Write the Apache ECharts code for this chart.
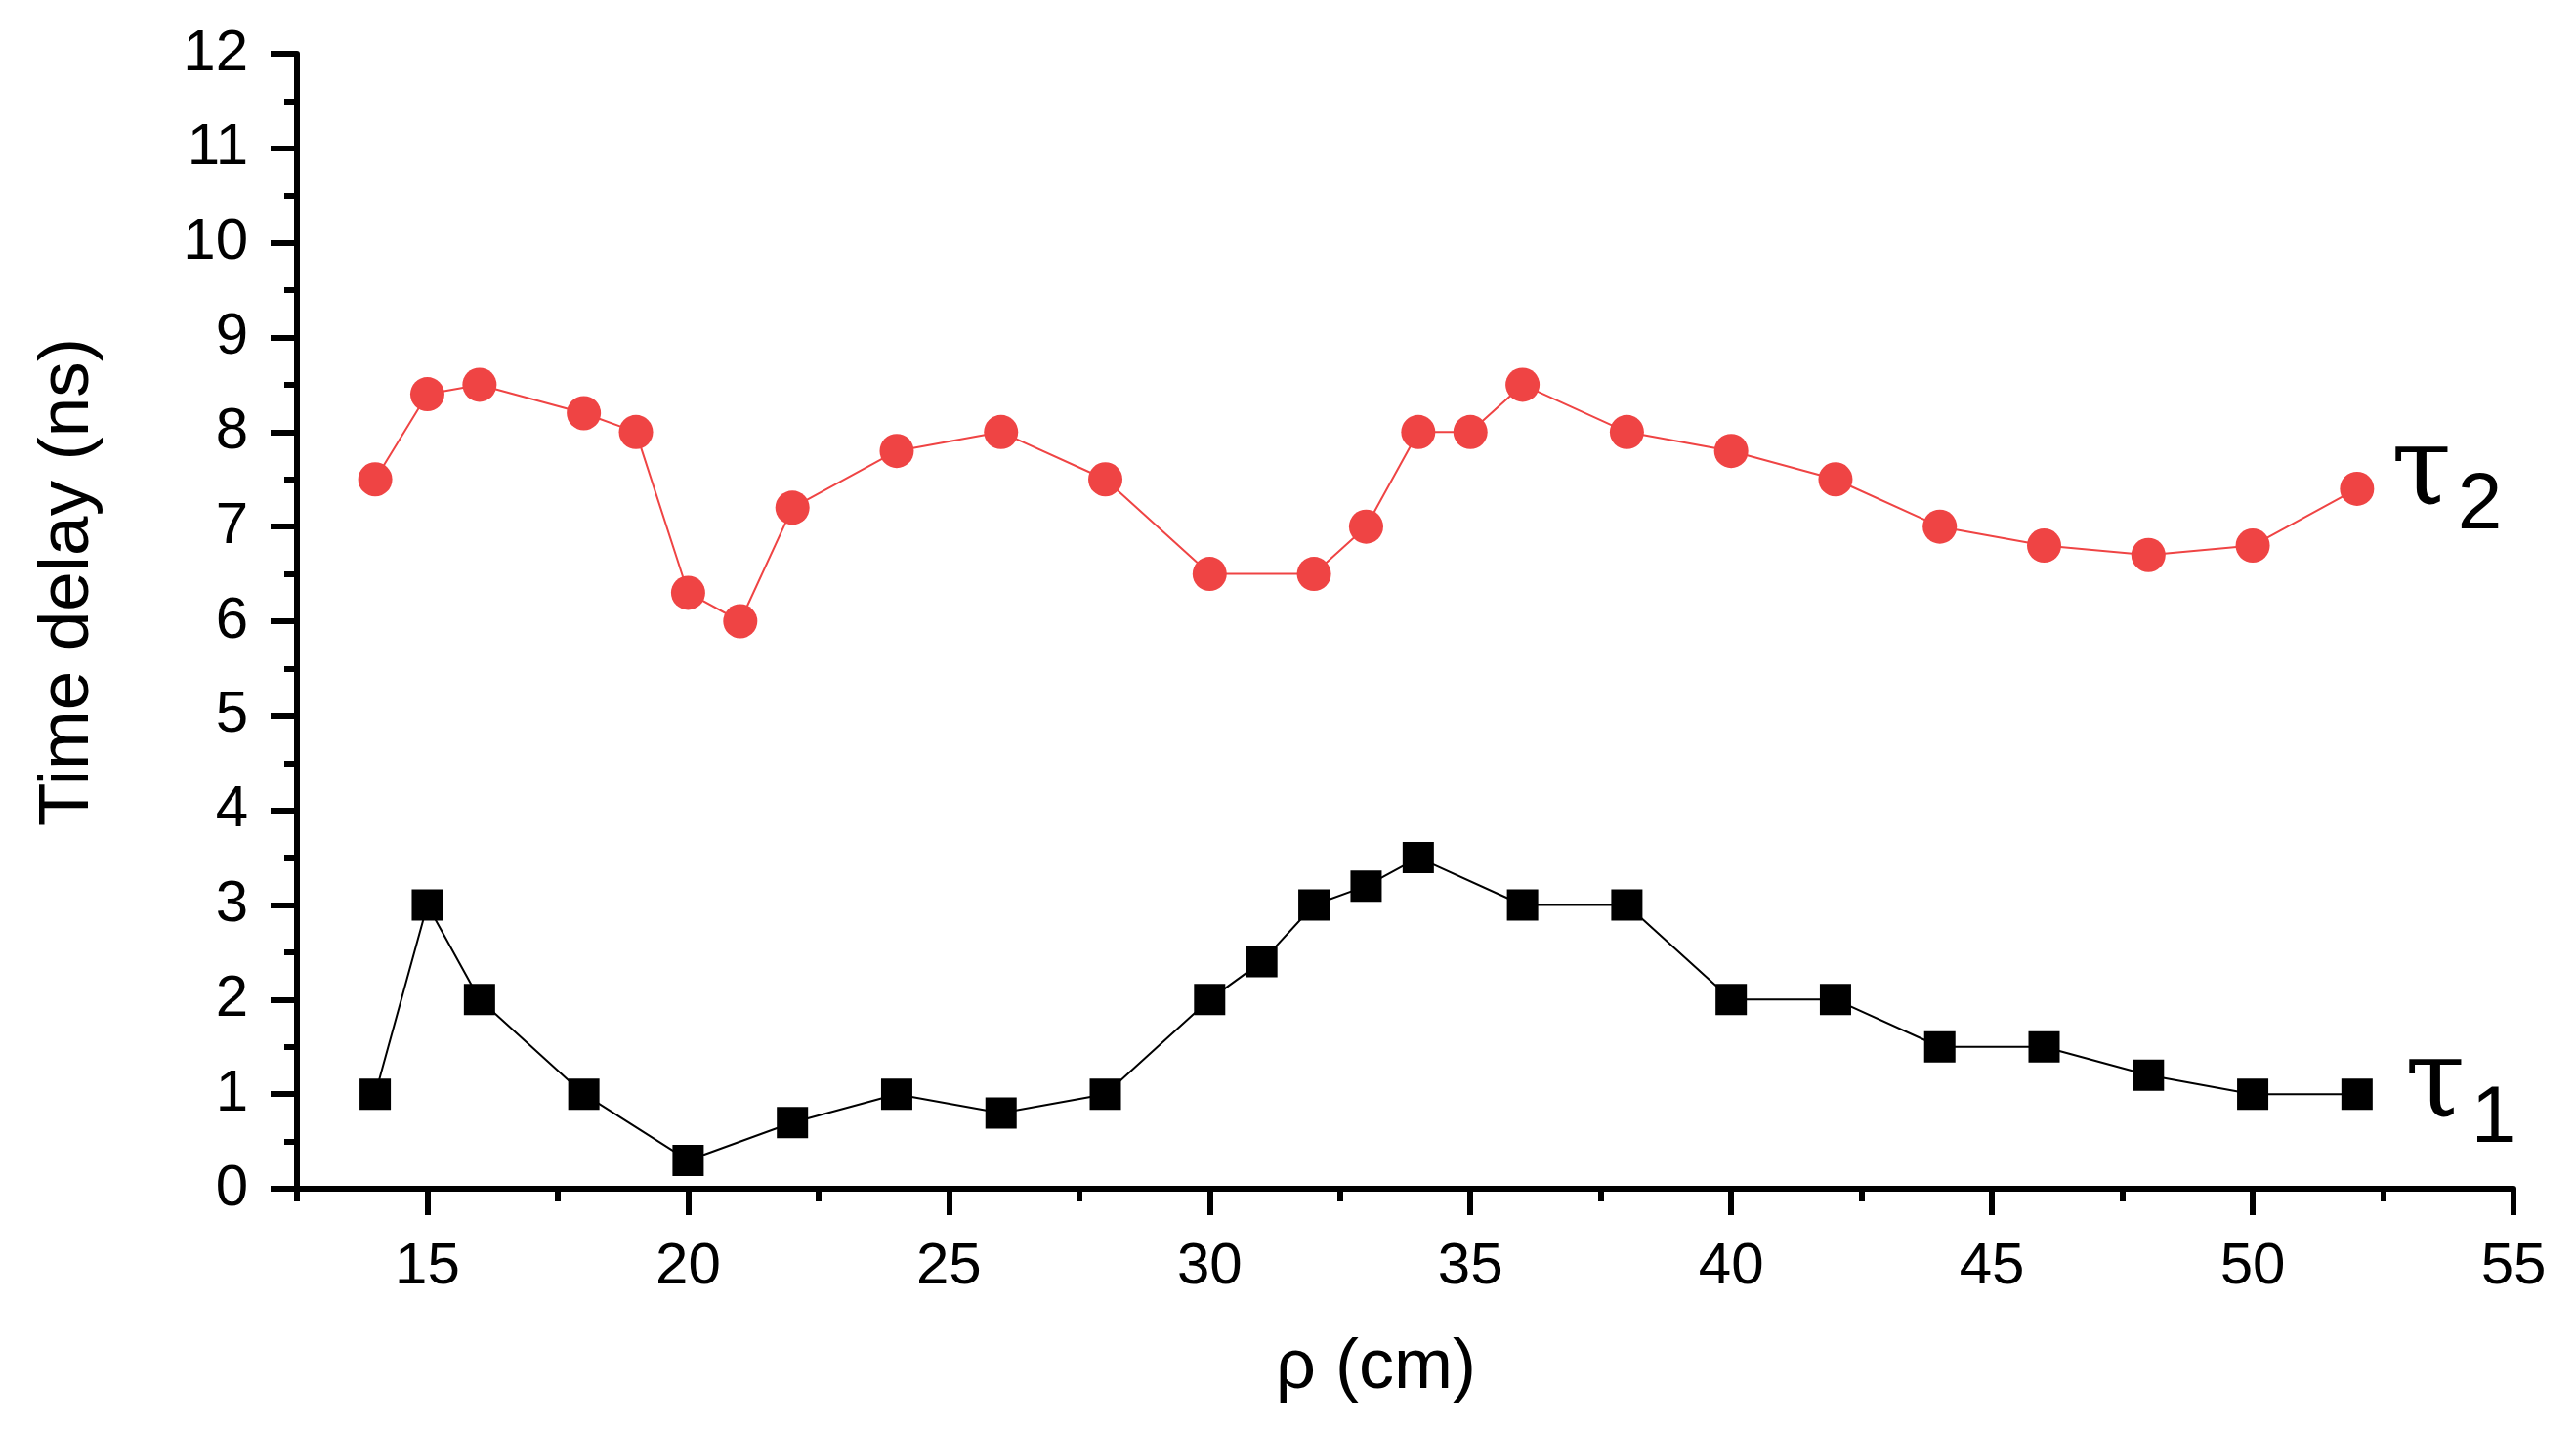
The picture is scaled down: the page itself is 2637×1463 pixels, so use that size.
<!DOCTYPE html>
<html>
<head>
<meta charset="utf-8">
<script src="https://cdn.jsdelivr.net/npm/echarts@6/dist/echarts.min.js"></script>
<style>
  html, body { margin: 0; padding: 0; background: #fff; }
  #chart { width: 2637px; height: 1463px; }
</style>
</head>
<body>
<div id="chart"></div>
<script>
// rho (cm) and time delays (ns)
var rhoTau1 = [14, 15, 16, 18, 20, 22, 24, 26, 28, 30, 31, 32, 33, 34, 36, 38, 40, 42, 44, 46, 48, 50, 52];
var tau1 = [1.0, 3.0, 2.0, 1.0, 0.3, 0.7, 1.0, 0.8, 1.0, 2.0, 2.4, 3.0, 3.2, 3.5, 3.0, 3.0, 2.0, 2.0, 1.5, 1.5, 1.2, 1.0, 1.0];
var rhoTau2 = [14, 15, 16, 18, 19, 20, 21, 22, 24, 26, 28, 30, 32, 33, 34, 35, 36, 38, 40, 42, 44, 46, 48, 50, 52];
var tau2 = [7.5, 8.4, 8.5, 8.2, 8.0, 6.3, 6.0, 7.2, 7.8, 8.0, 7.5, 6.5, 6.5, 7.0, 8.0, 8.0, 8.5, 8.0, 7.8, 7.5, 7.0, 6.8, 6.7, 6.8, 7.4];
var xMajorTicks = [15, 20, 25, 30, 35, 40, 45, 50, 55];
var xMinorTicks = [12.5, 17.5, 22.5, 27.5, 32.5, 37.5, 42.5, 47.5, 52.5];

function pairs(xs, ys) {
    return xs.map(function (x, i) { return [x, ys[i]]; });
}

var chart = echarts.init(document.getElementById('chart'));
var font = 'Liberation Sans, Arial, sans-serif';
var axisLine = { show: true, lineStyle: { color: '#000', width: 6 } };
var tauRich = {
    t: { fontFamily: 'DejaVu Serif', fontSize: 112, color: '#000' },
    s: { fontFamily: font, fontSize: 82, color: '#000', padding: [64, 0, 0, 6] }
};

var option = {
    animation: false,
    backgroundColor: '#fff',
    grid: { left: 304, right: 64, top: 55, bottom: 246 },
    xAxis: [{
        type: 'value',
        min: 12.5,
        max: 55,
        name: 'ρ (cm)',
        nameLocation: 'middle',
        nameGap: 148,
        nameTextStyle: { fontFamily: font, fontSize: 72, color: '#000', padding: [0, 60, 0, 0] },
        axisLine: axisLine,
        axisTick: { show: true, length: 27, lineStyle: { width: 6, color: '#000' }, customValues: xMajorTicks },
        axisLabel: { fontFamily: font, fontSize: 60, color: '#000', margin: 50, customValues: xMajorTicks },
        splitLine: { show: false }
    }, {
        type: 'value',
        min: 12.5,
        max: 55,
        position: 'bottom',
        axisLine: { show: false },
        axisTick: { show: true, length: 13, lineStyle: { width: 6, color: '#000' }, customValues: xMinorTicks },
        axisLabel: { show: false },
        splitLine: { show: false }
    }],
    yAxis: {
        type: 'value',
        min: 0,
        max: 12,
        interval: 1,
        name: 'Time delay (ns)',
        nameLocation: 'middle',
        nameGap: 198,
        nameTextStyle: { fontFamily: font, fontSize: 73, color: '#000', padding: [0, 0, 0, 80] },
        axisLine: axisLine,
        axisTick: { show: true, length: 27, lineStyle: { width: 6, color: '#000' } },
        minorTick: { show: true, splitNumber: 2, length: 13, lineStyle: { width: 6, color: '#000' } },
        axisLabel: { fontFamily: font, fontSize: 60, color: '#000', margin: 50 },
        splitLine: { show: false }
    },
    series: [{
        name: 'τ1',
        type: 'line',
        data: pairs(rhoTau1, tau1),
        symbol: 'rect',
        symbolSize: 32,
        itemStyle: { color: '#000' },
        lineStyle: { color: '#000', width: 2 },
        endLabel: {
            show: true,
            formatter: '{t|τ}{s|1}',
            distance: 49,
            offset: [0, -6],
            rich: tauRich
        }
    }, {
        name: 'τ2',
        type: 'line',
        data: pairs(rhoTau2, tau2),
        symbol: 'circle',
        symbolSize: 35,
        itemStyle: { color: '#EF4444' },
        lineStyle: { color: '#EF4444', width: 2 },
        endLabel: {
            show: true,
            formatter: '{t|τ}{s|2}',
            distance: 35,
            offset: [0, -14],
            rich: tauRich
        }
    }]
};
chart.setOption(option);
</script>
</body>
</html>
